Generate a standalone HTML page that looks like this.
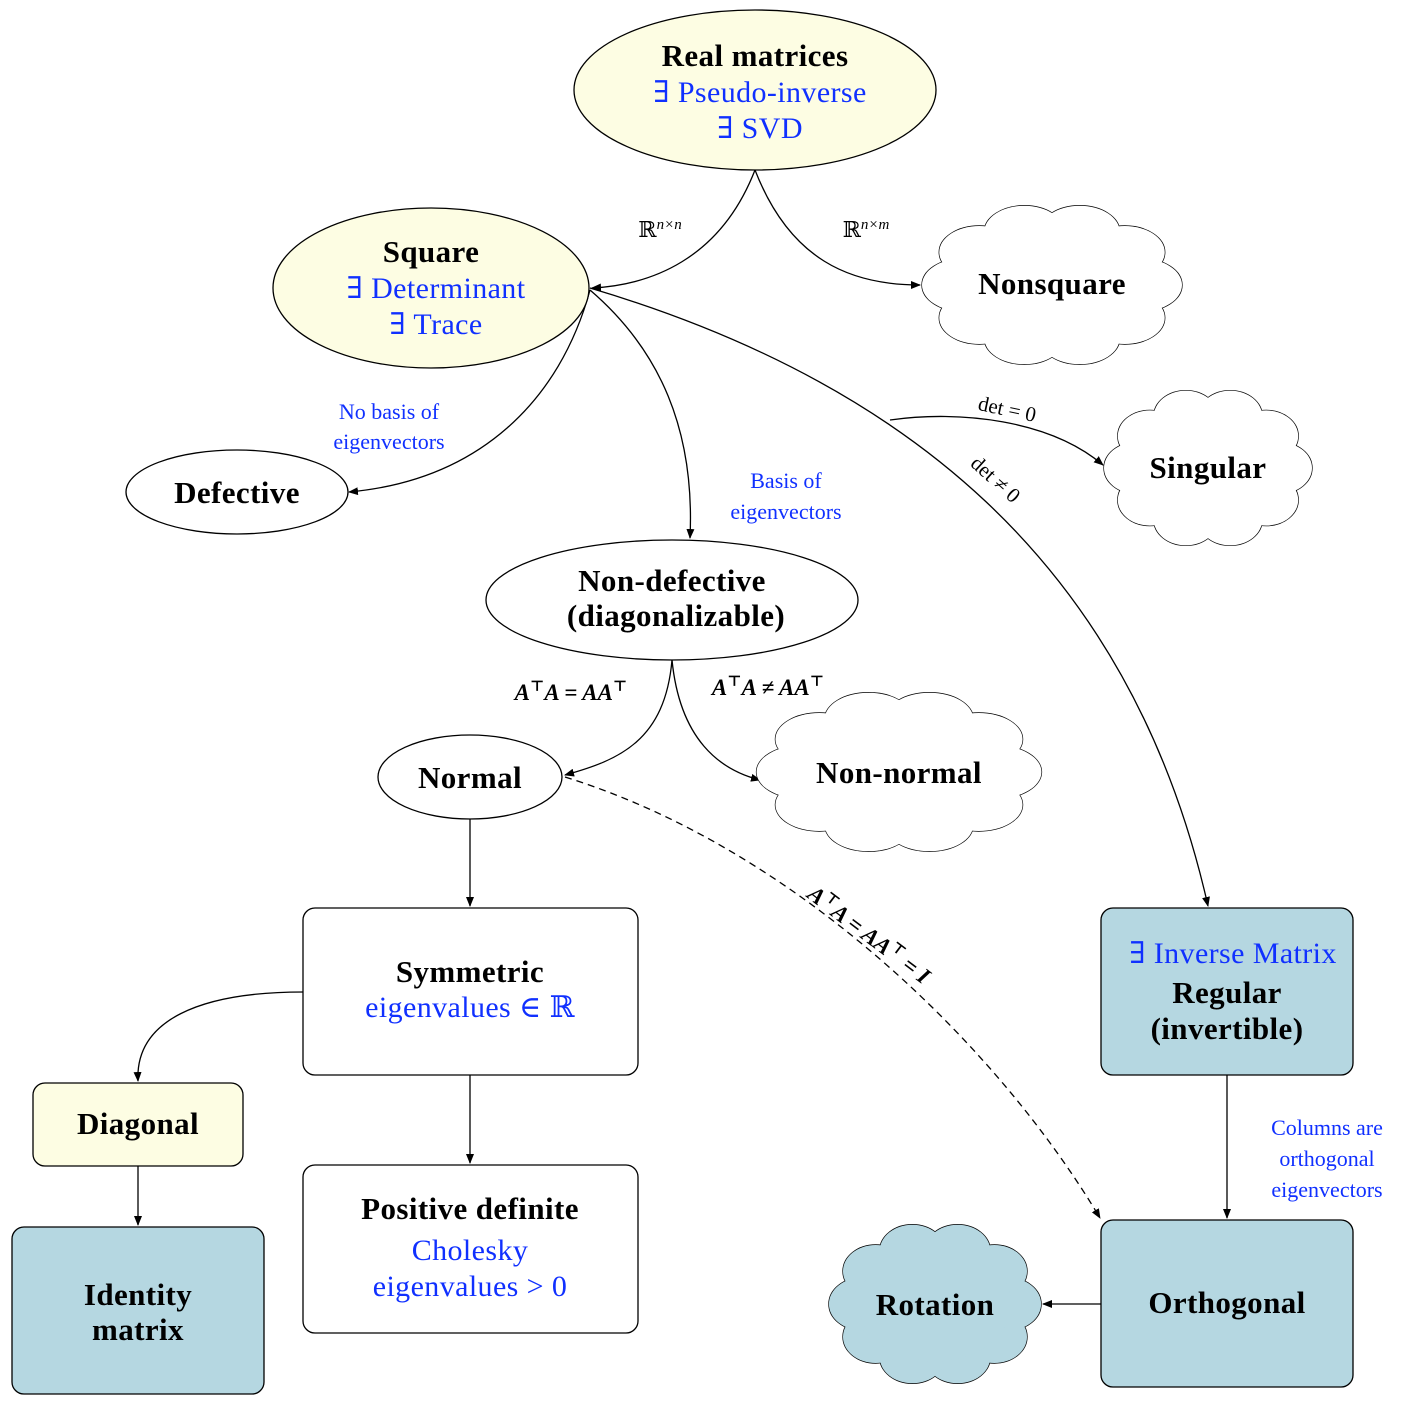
<!DOCTYPE html>
<html><head><meta charset="utf-8"><style>
html,body{margin:0;padding:0;background:#fff}
svg{display:block}
text{font-family:"Liberation Serif","DejaVu Serif",serif}
.b{font-weight:bold;font-size:31px;fill:#000;letter-spacing:0.4px}
.bl{font-size:30px;fill:#1030ff;letter-spacing:0.4px}
.sm{font-size:22px;fill:#1030ff}
.m{font-size:23px;font-style:italic;font-weight:bold}
</style></head><body>
<svg width="1404" height="1406" viewBox="0 0 1404 1406" xmlns="http://www.w3.org/2000/svg" xmlns:xlink="http://www.w3.org/1999/xlink">
<defs>
<marker id="a" markerWidth="10" markerHeight="8" refX="9" refY="4" orient="auto" markerUnits="userSpaceOnUse"><path d="M0,0 L10,4 L0,8 z" fill="#000"/></marker>
<g id="cs" stroke="#000" stroke-width="1.3">
<circle vector-effect="non-scaling-stroke" cx="0.72" cy="0" r="0.32"/>
<circle vector-effect="non-scaling-stroke" cx="0.582" cy="0.4" r="0.32"/>
<circle vector-effect="non-scaling-stroke" cx="0.222" cy="0.647" r="0.32"/>
<circle vector-effect="non-scaling-stroke" cx="-0.222" cy="0.647" r="0.32"/>
<circle vector-effect="non-scaling-stroke" cx="-0.582" cy="0.4" r="0.32"/>
<circle vector-effect="non-scaling-stroke" cx="-0.72" cy="0" r="0.32"/>
<circle vector-effect="non-scaling-stroke" cx="-0.582" cy="-0.4" r="0.32"/>
<circle vector-effect="non-scaling-stroke" cx="-0.222" cy="-0.647" r="0.32"/>
<circle vector-effect="non-scaling-stroke" cx="0.222" cy="-0.647" r="0.32"/>
<circle vector-effect="non-scaling-stroke" cx="0.582" cy="-0.4" r="0.32"/>
</g>
<g id="cf" stroke="none">
<circle cx="0.72" cy="0" r="0.32"/>
<circle cx="0.582" cy="0.4" r="0.32"/>
<circle cx="0.222" cy="0.647" r="0.32"/>
<circle cx="-0.222" cy="0.647" r="0.32"/>
<circle cx="-0.582" cy="0.4" r="0.32"/>
<circle cx="-0.72" cy="0" r="0.32"/>
<circle cx="-0.582" cy="-0.4" r="0.32"/>
<circle cx="-0.222" cy="-0.647" r="0.32"/>
<circle cx="0.222" cy="-0.647" r="0.32"/>
<circle cx="0.582" cy="-0.4" r="0.32"/>
<ellipse cx="0" cy="0" rx="0.75" ry="0.7"/>
</g>
</defs>
<g fill="none" stroke="#000" stroke-width="1.3">
<path d="M755,170 C720,260 650,285 592,288" marker-end="url(#a)"/>
<path d="M755,170 C790,260 850,285 920,285" marker-end="url(#a)"/>
<path d="M590,290 C560,400 480,480 349,492" marker-end="url(#a)"/>
<path d="M590,290 C660,350 695,430 690,538" marker-end="url(#a)"/>
<path d="M590,288 C900,380 1130,560 1208,906" marker-end="url(#a)"/>
<path d="M890,420 C960,410 1050,420 1103,465" marker-end="url(#a)"/>
<path d="M672,660 C665,740 620,760 565,775" marker-end="url(#a)"/>
<path d="M672,660 C680,740 720,770 760,780" marker-end="url(#a)"/>
<path d="M470,818 L470,906" marker-end="url(#a)"/>
<path d="M565,777 C800,850 1000,1050 1100,1218" stroke-dasharray="7,5" marker-end="url(#a)"/>
<path d="M303,992 C200,992 135,1020 138,1081" marker-end="url(#a)"/>
<path d="M470,1075 L470,1163" marker-end="url(#a)"/>
<path d="M138,1166 L138,1225" marker-end="url(#a)"/>
<path d="M1227,1075 L1227,1218" marker-end="url(#a)"/>
<path d="M1101,1304 L1043,1304" marker-end="url(#a)"/>
</g>
<g stroke="#000" stroke-width="1.3">
<ellipse cx="755" cy="90" rx="181" ry="80" fill="#fdfde3"/>
<ellipse cx="431" cy="288" rx="158" ry="80" fill="#fdfde3"/>
<ellipse cx="237" cy="492" rx="111" ry="42" fill="#fff"/>
<ellipse cx="672" cy="600" rx="186" ry="60" fill="#fff"/>
<ellipse cx="470" cy="777" rx="92" ry="42" fill="#fff"/>
<rect x="303" y="908" width="335" height="167" rx="12" fill="#fff"/>
<rect x="303" y="1165" width="335" height="168" rx="12" fill="#fff"/>
<rect x="33" y="1083" width="210" height="83" rx="12" fill="#fdfde3"/>
<rect x="12" y="1227" width="252" height="167" rx="12" fill="#b5d7e1"/>
<rect x="1101" y="908" width="252" height="167" rx="12" fill="#b5d7e1"/>
<rect x="1101" y="1220" width="252" height="167" rx="12" fill="#b5d7e1"/>
</g>
<g transform="translate(1052,285) scale(125,82)" fill="#fff"><use xlink:href="#cs"/><use xlink:href="#cf"/></g>
<g transform="translate(1208,468) scale(100,80)" fill="#fff"><use xlink:href="#cs"/><use xlink:href="#cf"/></g>
<g transform="translate(899,772) scale(137,82)" fill="#fff"><use xlink:href="#cs"/><use xlink:href="#cf"/></g>
<g transform="translate(935,1304) scale(102,82)" fill="#b5d7e1"><use xlink:href="#cs"/><use xlink:href="#cf"/></g>
<g text-anchor="middle">
<text class="b" x="755" y="66">Real matrices</text>
<text class="bl" x="760" y="102">∃ Pseudo-inverse</text>
<text class="bl" x="760" y="138">∃ SVD</text>
<text class="b" x="431" y="262">Square</text>
<text class="bl" x="436" y="298">∃ Determinant</text>
<text class="bl" x="436" y="334">∃ Trace</text>
<text class="b" x="1052" y="294">Nonsquare</text>
<text class="b" x="1208" y="478">Singular</text>
<text class="b" x="237" y="503">Defective</text>
<text class="b" x="672" y="591">Non-defective</text>
<text class="b" x="676" y="626">(diagonalizable)</text>
<text class="b" x="470" y="788">Normal</text>
<text class="b" x="899" y="783">Non-normal</text>
<text class="b" x="470" y="982">Symmetric</text>
<text class="bl" x="470" y="1017">eigenvalues ∈ ℝ</text>
<text class="b" x="470" y="1219">Positive definite</text>
<text class="bl" x="470" y="1260">Cholesky</text>
<text class="bl" x="470" y="1296">eigenvalues &gt; 0</text>
<text class="b" x="138" y="1134">Diagonal</text>
<text class="b" x="138" y="1305">Identity</text>
<text class="b" x="138" y="1340">matrix</text>
<text class="bl" x="1233" y="963">∃ Inverse Matrix</text>
<text class="b" x="1227" y="1003">Regular</text>
<text class="b" x="1227" y="1039">(invertible)</text>
<text class="b" x="1227" y="1313">Orthogonal</text>
<text class="b" x="935" y="1315">Rotation</text>
<text class="sm" x="389" y="419">No basis of</text>
<text class="sm" x="389" y="449">eigenvectors</text>
<text class="sm" x="786" y="488">Basis of</text>
<text class="sm" x="786" y="519">eigenvectors</text>
<text class="sm" x="1327" y="1135">Columns are</text>
<text class="sm" x="1327" y="1166">orthogonal</text>
<text class="sm" x="1327" y="1197">eigenvectors</text>
<text x="660" y="237" font-size="22">ℝ<tspan font-size="15" dy="-8" font-style="italic">n×n</tspan></text>
<text x="866" y="237" font-size="22">ℝ<tspan font-size="15" dy="-8" font-style="italic">n×m</tspan></text>
<text x="1007" y="416" font-size="21" transform="rotate(12 1007 410)">det = 0</text>
<text x="995" y="486" font-size="21" transform="rotate(42 995 480)">det ≠ 0</text>
<text class="m" x="571" y="700">A<tspan font-size="15" dy="-9">⊤</tspan><tspan dy="9">A = AA</tspan><tspan font-size="15" dy="-9">⊤</tspan></text>
<text class="m" x="768" y="695">A<tspan font-size="15" dy="-9">⊤</tspan><tspan dy="9">A ≠ AA</tspan><tspan font-size="15" dy="-9">⊤</tspan></text>
<text class="m" x="868" y="942" transform="rotate(37 868 936)">A<tspan font-size="15" dy="-9">⊤</tspan><tspan dy="9">A = AA</tspan><tspan font-size="15" dy="-9">⊤</tspan><tspan dy="9"> = I</tspan></text>
</g>
</svg>
</body></html>
